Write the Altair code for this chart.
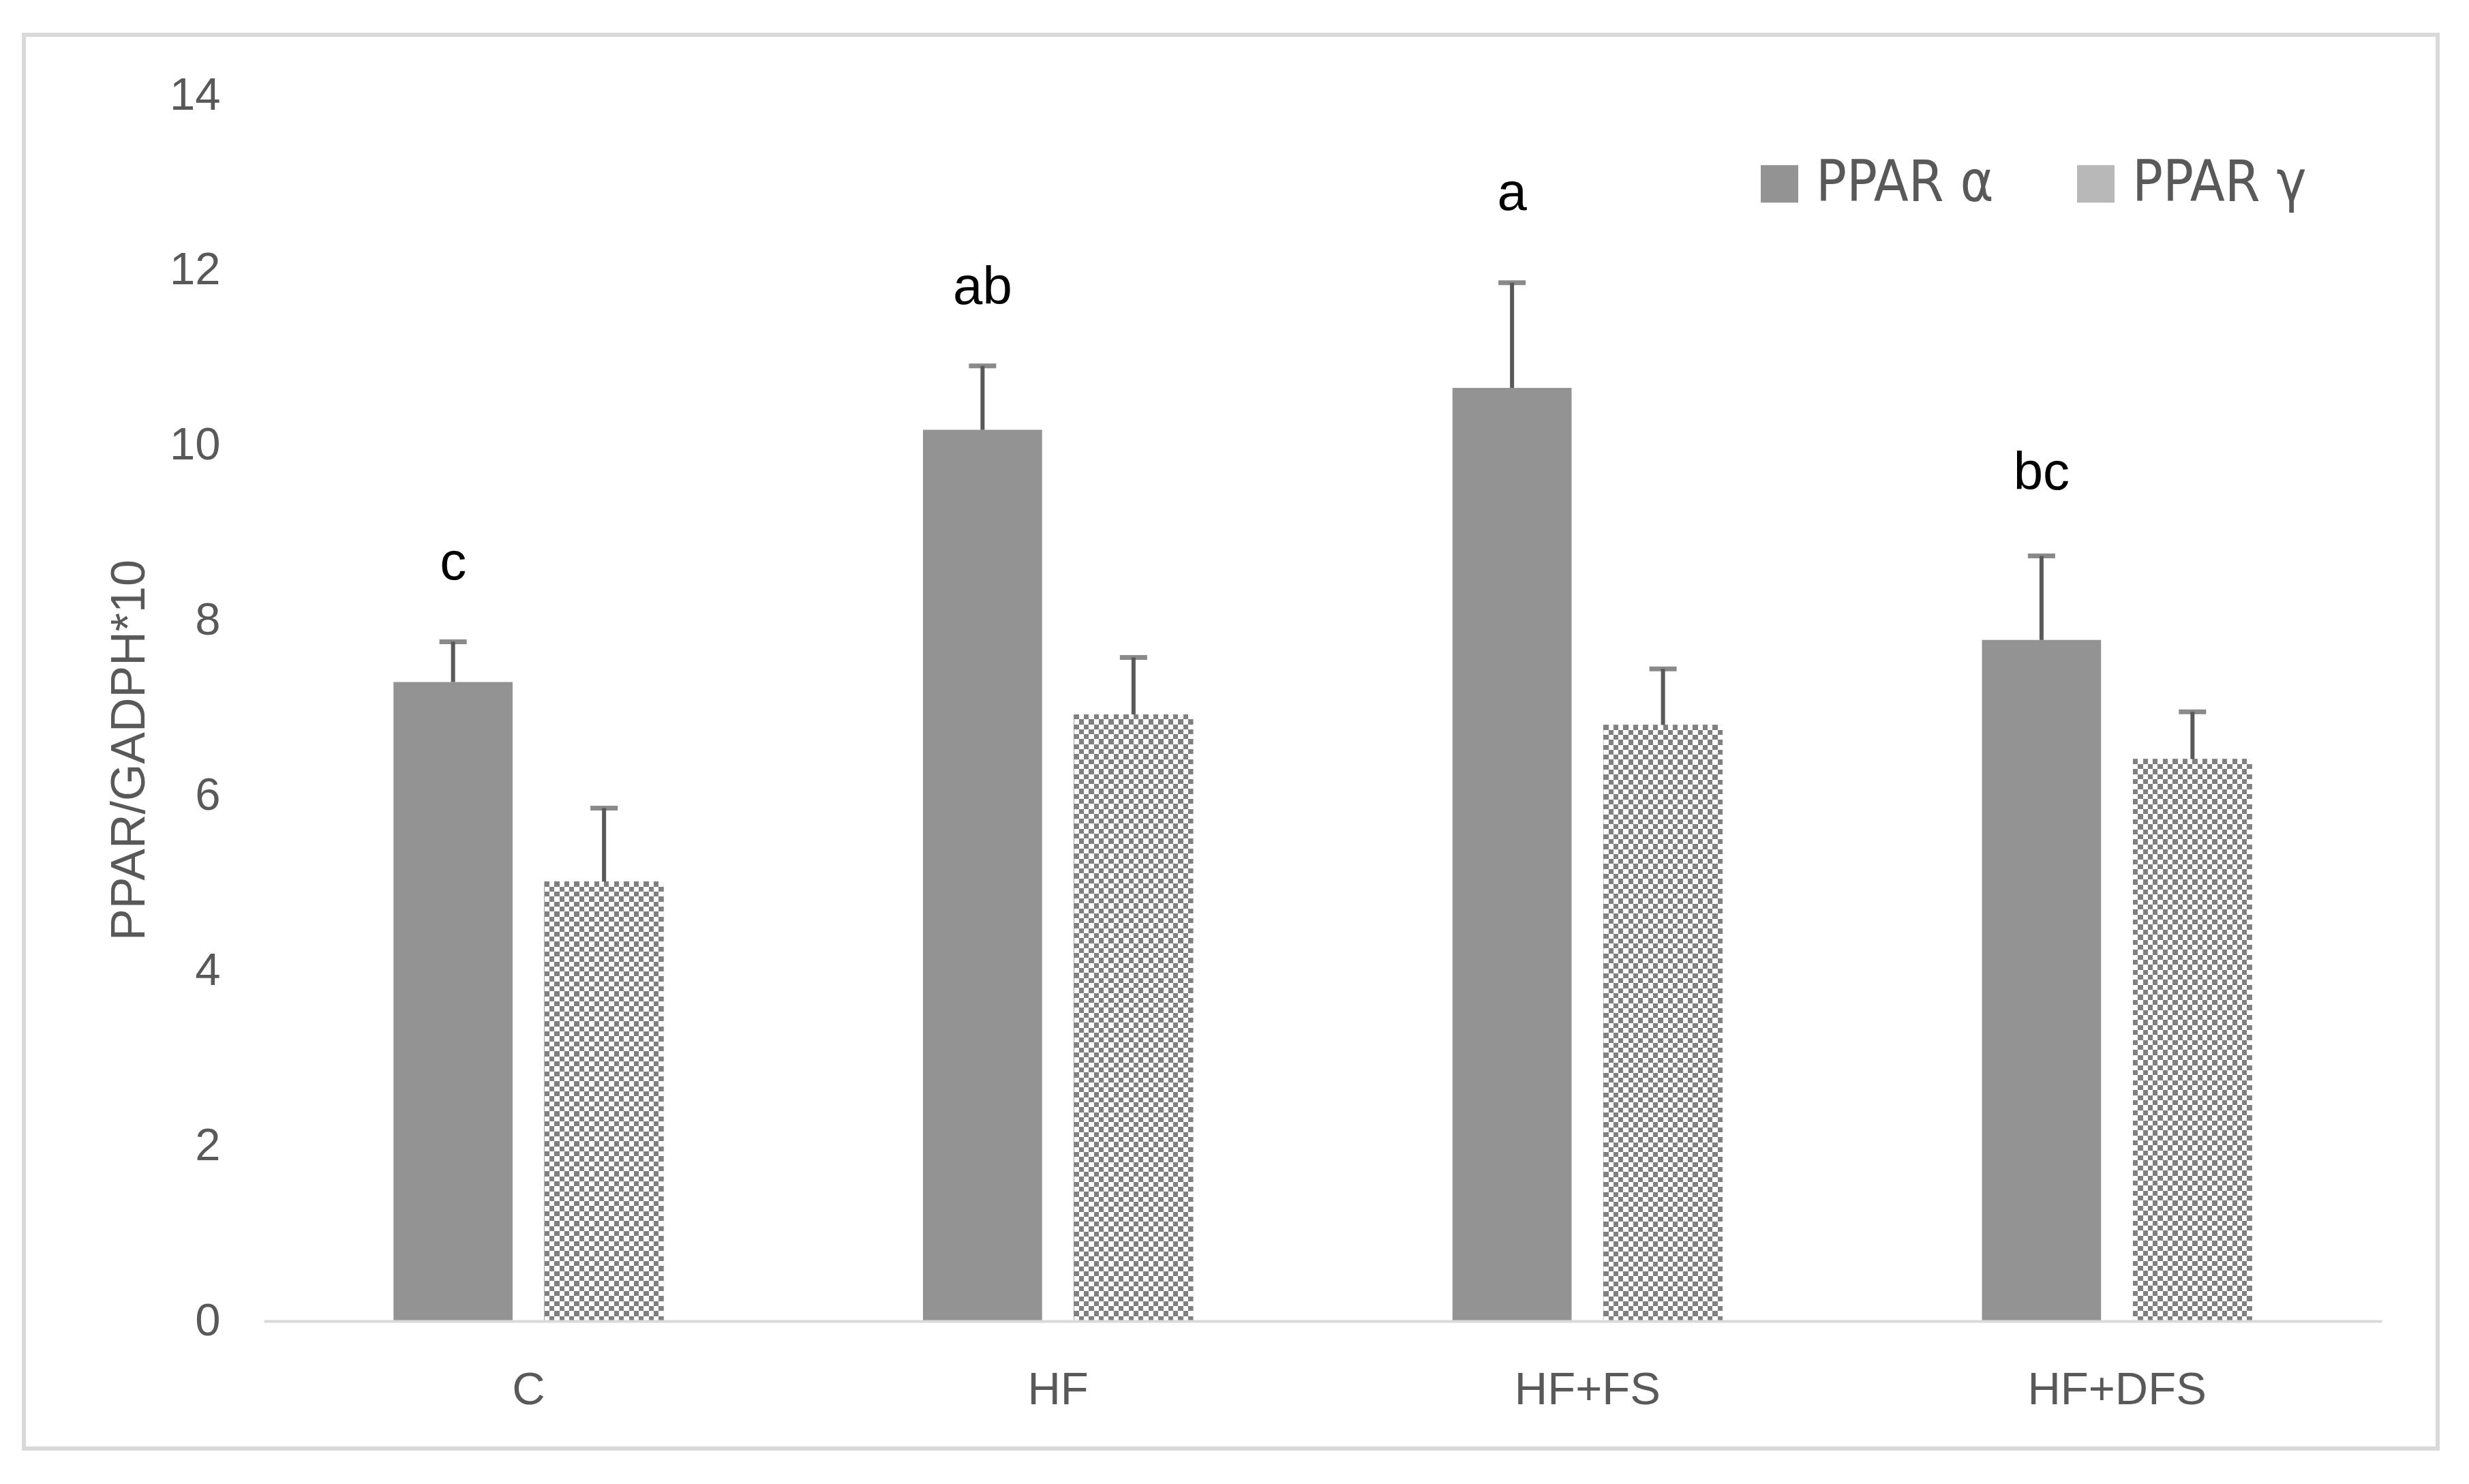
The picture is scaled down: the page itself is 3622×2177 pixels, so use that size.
import altair as alt
import pandas as pd

# ---- data ----
categories = ["C", "HF", "HF+FS", "HF+DFS"]
series = ["PPAR α", "PPAR γ"]
alpha_mean = [7.30, 10.18, 10.66, 7.78]
alpha_err = [0.46, 0.73, 1.20, 0.96]
gamma_mean = [5.02, 6.93, 6.81, 6.42]
gamma_err = [0.84, 0.65, 0.64, 0.54]
letters = ["c", "ab", "a", "bc"]
letter_pos = [8.47, 11.62, 12.69, 9.50]
y_ticks = [0, 2, 4, 6, 8, 10, 12, 14]
y_title = "PPAR/GADPH*10"

rows = []
for i, c in enumerate(categories):
    rows.append({"group": c, "series": series[0], "mean": alpha_mean[i], "err": alpha_err[i]})
    rows.append({"group": c, "series": series[1], "mean": gamma_mean[i], "err": gamma_err[i]})
df = pd.DataFrame(rows)
df["upper"] = df["mean"] + df["err"]

lab = pd.DataFrame({"group": categories, "series": [series[0]] * 4,
                    "letter": letters, "pos": letter_pos})

# ---- layout ----
W, H = 3107, 1798
YMAX = 14
GREY_TXT = "#595959"
FONT = "Liberation Sans, Arial, sans-serif"
NARROW = "Liberation Sans Narrow, Arial Narrow, DejaVu Sans Condensed, sans-serif"

x_scale = alt.Scale(domain=categories, paddingInner=0, paddingOuter=0)
xo_scale = alt.Scale(domain=series, paddingInner=0.211, paddingOuter=0.859)
y_scale = alt.Scale(domain=[0, YMAX], nice=False, zero=True)

x_axis = alt.Axis(title=None, labelAngle=0, labelFont=FONT, labelFontSize=67,
                  labelColor=GREY_TXT, labelPadding=68, ticks=False, tickSize=0,
                  domainColor="#d9d9d9", domainWidth=4, grid=False, labelLimit=1000,
                  zindex=1)
y_axis = alt.Axis(values=y_ticks, title=y_title, labelFont=FONT, labelFontSize=67,
                  labelColor=GREY_TXT, labelPadding=64, ticks=False, tickSize=0,
                  domain=False, grid=False,
                  titleFont=FONT, titleFontSize=70, titleColor=GREY_TXT,
                  titleFontWeight="normal", titleAngle=270, titleAlign="center",
                  titleBaseline="middle", titleX=-197, titleY=960, labelLimit=1000,
                  zindex=1)


def X():
    return alt.X("group:N", sort=categories, scale=x_scale, axis=x_axis, title=None)


def Y(field):
    return alt.Y(field, scale=y_scale, axis=y_axis, title=y_title)


XO = alt.XOffset("series:N", scale=xo_scale, sort=series)


def stripes(n, along_y):
    """n black/white stripe pairs across the bar (used to build a checkerboard)."""
    stops = []
    for k in range(n):
        a = k / n
        b = (k + 0.5) / n
        c = (k + 1) / n
        stops += [{"offset": a, "color": "#000000"}, {"offset": b, "color": "#000000"},
                  {"offset": b, "color": "#ffffff"}, {"offset": c, "color": "#ffffff"}]
    if along_y:
        return {"gradient": "linear", "x1": 0, "x2": 0, "y1": 0, "y2": 1, "stops": stops}
    return {"gradient": "linear", "x1": 0, "x2": 1, "y1": 0, "y2": 0, "stops": stops}


CELL = 7.3          # checker cell size in px
bar_w = 174.8

border = alt.Chart(pd.DataFrame({"k": [0]})).mark_rect(
    fill="white", fillOpacity=0, stroke="#d9d9d9", strokeWidth=6
).encode(x=alt.value(-352), x2=alt.value(3189), y=alt.value(-89), y2=alt.value(1985))

bars = alt.Chart(df).mark_bar().encode(
    x=X(),
    xOffset=XO,
    y=Y("mean:Q"),
    color=alt.Color("series:N", scale=alt.Scale(domain=series, range=["#939393", "#b8b8b8"]),
                    title=None,
                    legend=alt.Legend(orient="none", legendX=2182, legendY=88,
                                      direction="horizontal", symbolType="square",
                                      symbolSize=3025, symbolStrokeWidth=0,
                                      labelFont=NARROW, labelFontSize=83,
                                      labelColor=GREY_TXT, labelOffset=12,
                                      columnPadding=108, padding=0, labelLimit=1000)),
)

gamma_only = alt.datum.series == series[1]

n_cols = int(round(bar_w / (2 * CELL)))
gamma_v = alt.Chart(df).transform_filter(gamma_only).mark_bar(
    fill=stripes(n_cols, False)
).encode(x=X(), xOffset=XO, y=Y("mean:Q"))

gamma_h_layers = []
for i, c in enumerate(categories):
    h_px = gamma_mean[i] * H / YMAX
    n_rows = max(1, int(round(h_px / (2 * CELL))))
    gamma_h_layers.append(
        alt.Chart(df).transform_filter(
            gamma_only & (alt.datum.group == c)
        ).mark_bar(fill=stripes(n_rows, True), blend="difference").encode(
            x=X(), xOffset=XO, y=Y("mean:Q"))
    )

gamma_veil = alt.Chart(df).transform_filter(gamma_only).mark_bar(
    fill="#ffffff", fillOpacity=0.5
).encode(x=X(), xOffset=XO, y=Y("mean:Q"))

err_rule = alt.Chart(df).mark_rule(color=GREY_TXT, strokeWidth=6).encode(
    x=X(), xOffset=XO, y=Y("mean:Q"), y2="upper:Q")

err_cap = alt.Chart(df).mark_tick(color=GREY_TXT, size=40, thickness=7).encode(
    x=X(), xOffset=XO, y=Y("upper:Q"))

letters_layer = alt.Chart(lab).mark_text(
    font=FONT, fontSize=78, color="black", baseline="alphabetic", align="center"
).encode(x=X(), xOffset=XO, y=Y("pos:Q"), text="letter:N")

chart = alt.layer(
    border, bars, gamma_v, *gamma_h_layers, gamma_veil, err_rule, err_cap, letters_layer
).properties(
    width=W, height=H,
    autosize=alt.AutoSizeParams(type="none"),
    padding={"left": 379, "top": 132, "right": 120, "bottom": 231},
    background="white",
).configure_view(stroke="transparent")

chart.save("out.html", embed_options={"renderer": "svg", "actions": False})
